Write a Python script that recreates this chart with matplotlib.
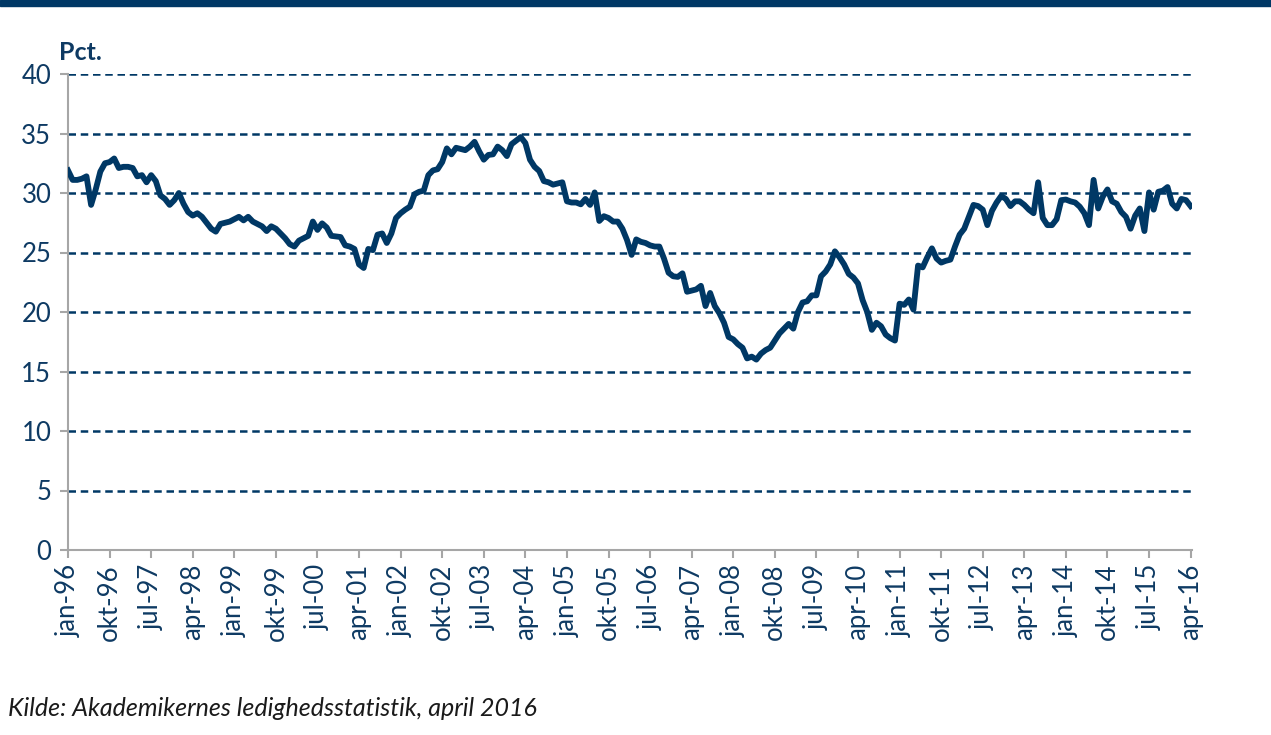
import matplotlib
matplotlib.use("Agg")
from matplotlib import pyplot as plt
from matplotlib.patches import Rectangle

plt.rcParams['font.family'] = ['Lato', 'DejaVu Sans']

# Ledighed (pct.), månedlig, jan-96 .. apr-16
ledighed = [
    31.9, 31.1, 31.1, 31.2, 31.4, 29.0, 30.3, 31.8, 32.5, 32.6, 32.9, 32.1,   # 1996
    32.2, 32.2, 32.1, 31.4, 31.5, 30.9, 31.5, 31.0, 29.8, 29.5, 29.0, 29.4,   # 1997
    30.0, 29.1, 28.4, 28.1, 28.3, 28.0, 27.5, 27.0, 26.75, 27.4, 27.5, 27.6,  # 1998
    27.8, 28.0, 27.7, 28.0, 27.6, 27.4, 27.2, 26.8, 27.2, 27.0, 26.6, 26.2,   # 1999
    25.7, 25.5, 26.0, 26.2, 26.4, 27.6, 26.9, 27.45, 27.1, 26.4, 26.35, 26.3, # 2000
    25.6, 25.5, 25.3, 24.0, 23.7, 25.3, 25.2, 26.5, 26.6, 25.8, 26.6, 27.9,   # 2001
    28.3, 28.6, 28.85, 29.9, 30.1, 30.2, 31.5, 31.9, 32.0, 32.6, 33.75, 33.25, # 2002
    33.8, 33.7, 33.6, 33.9, 34.3, 33.5, 32.8, 33.2, 33.25, 33.9, 33.6, 33.1,  # 2003
    34.1, 34.4, 34.7, 34.2, 32.8, 32.2, 31.85, 31.0, 30.9, 30.7, 30.8, 30.9,  # 2004
    29.3, 29.2, 29.2, 29.05, 29.5, 29.0, 30.05, 27.65, 28.05, 27.9, 27.6, 27.6, # 2005
    27.0, 26.05, 24.8, 26.1, 25.9, 25.8, 25.6, 25.5, 25.5, 24.5, 23.3, 23.0,  # 2006
    22.95, 23.25, 21.7, 21.8, 21.9, 22.2, 20.5, 21.6, 20.5, 19.9, 19.1, 17.9, # 2007
    17.7, 17.3, 17.0, 16.1, 16.25, 16.0, 16.5, 16.8, 17.0, 17.6, 18.2, 18.6,  # 2008
    19.0, 18.6, 20.0, 20.8, 20.9, 21.4, 21.4, 23.0, 23.4, 24.0, 25.1, 24.6,   # 2009
    24.0, 23.2, 22.9, 22.4, 21.0, 20.0, 18.5, 19.1, 18.8, 18.1, 17.8, 17.6,   # 2010
    20.7, 20.6, 21.05, 20.2, 23.9, 23.75, 24.6, 25.35, 24.5, 24.15, 24.3, 24.4, # 2011
    25.5, 26.5, 27.0, 28.0, 29.0, 28.9, 28.6, 27.3, 28.5, 29.2, 29.75, 29.5,  # 2012
    28.9, 29.3, 29.3, 29.0, 28.6, 28.3, 30.9, 27.9, 27.3, 27.3, 27.8, 29.4,   # 2013
    29.45, 29.3, 29.2, 28.85, 28.3, 27.3, 31.1, 28.7, 29.7, 30.3, 29.3, 29.1, # 2014
    28.4, 28.0, 27.0, 28.1, 28.7, 26.8, 30.05, 28.6, 30.1, 30.2, 30.5, 29.1,  # 2015
    28.7, 29.5, 29.4, 28.9,                                                   # 2016
]

tick_labels = ["jan-96", "okt-96", "jul-97", "apr-98", "jan-99", "okt-99", "jul-00",
               "apr-01", "jan-02", "okt-02", "jul-03", "apr-04", "jan-05", "okt-05",
               "jul-06", "apr-07", "jan-08", "okt-08", "jul-09", "apr-10", "jan-11",
               "okt-11", "jul-12", "apr-13", "jan-14", "okt-14", "jul-15", "apr-16"]
tick_step = 9  # måneder mellem labels

navy = "#003865"
txt = "#0e3a63"
grey = "#a6a6a6"
fs = 18.5

W, H = 1271, 735
fig = plt.figure(figsize=(W / 100, H / 100), dpi=100)
ax = fig.add_axes([68 / W, (H - 550) / H, (1192 - 68) / W, (550 - 74) / H])

months = list(range(len(ledighed)))
ax.plot(months, ledighed, color=navy, linewidth=4.2, solid_joinstyle="round", zorder=3)

ax.set_xlim(0, 243.3)
ax.set_ylim(0, 40)
ax.set_yticks(range(0, 41, 5))
ax.set_xticks(range(0, len(ledighed), tick_step))
ax.set_xticklabels(tick_labels, rotation=90)

for y in range(5, 41, 5):
    ax.axhline(y, color=navy, linewidth=1.8, linestyle=(0, (3.0, 1.9)), zorder=1)

for s in ["top", "right"]:
    ax.spines[s].set_visible(False)
for s in ["left", "bottom"]:
    ax.spines[s].set_color(grey)
    ax.spines[s].set_linewidth(1.5)

ax.tick_params(axis="both", colors=grey, width=1.5, length=6, direction="out")
ax.tick_params(axis="x", labelcolor=txt, labelsize=fs, pad=4)
ax.tick_params(axis="y", labelcolor=txt, labelsize=fs, pad=6)

fig.text(59 / W, 1 - 53 / H, "Pct.", color=txt, fontsize=18, fontweight="bold",
         ha="left", va="center")
fig.text(8 / W, 1 - 709 / H, "Kilde: Akademikernes ledighedsstatistik, april 2016",
         color="#1a1a1a", fontsize=18, style="italic", ha="left", va="center")

fig.patches.append(Rectangle((0, 1 - 6 / H), 1, 6 / H, transform=fig.transFigure,
                             color=navy, zorder=0))

fig.savefig("out.png", dpi=100)
